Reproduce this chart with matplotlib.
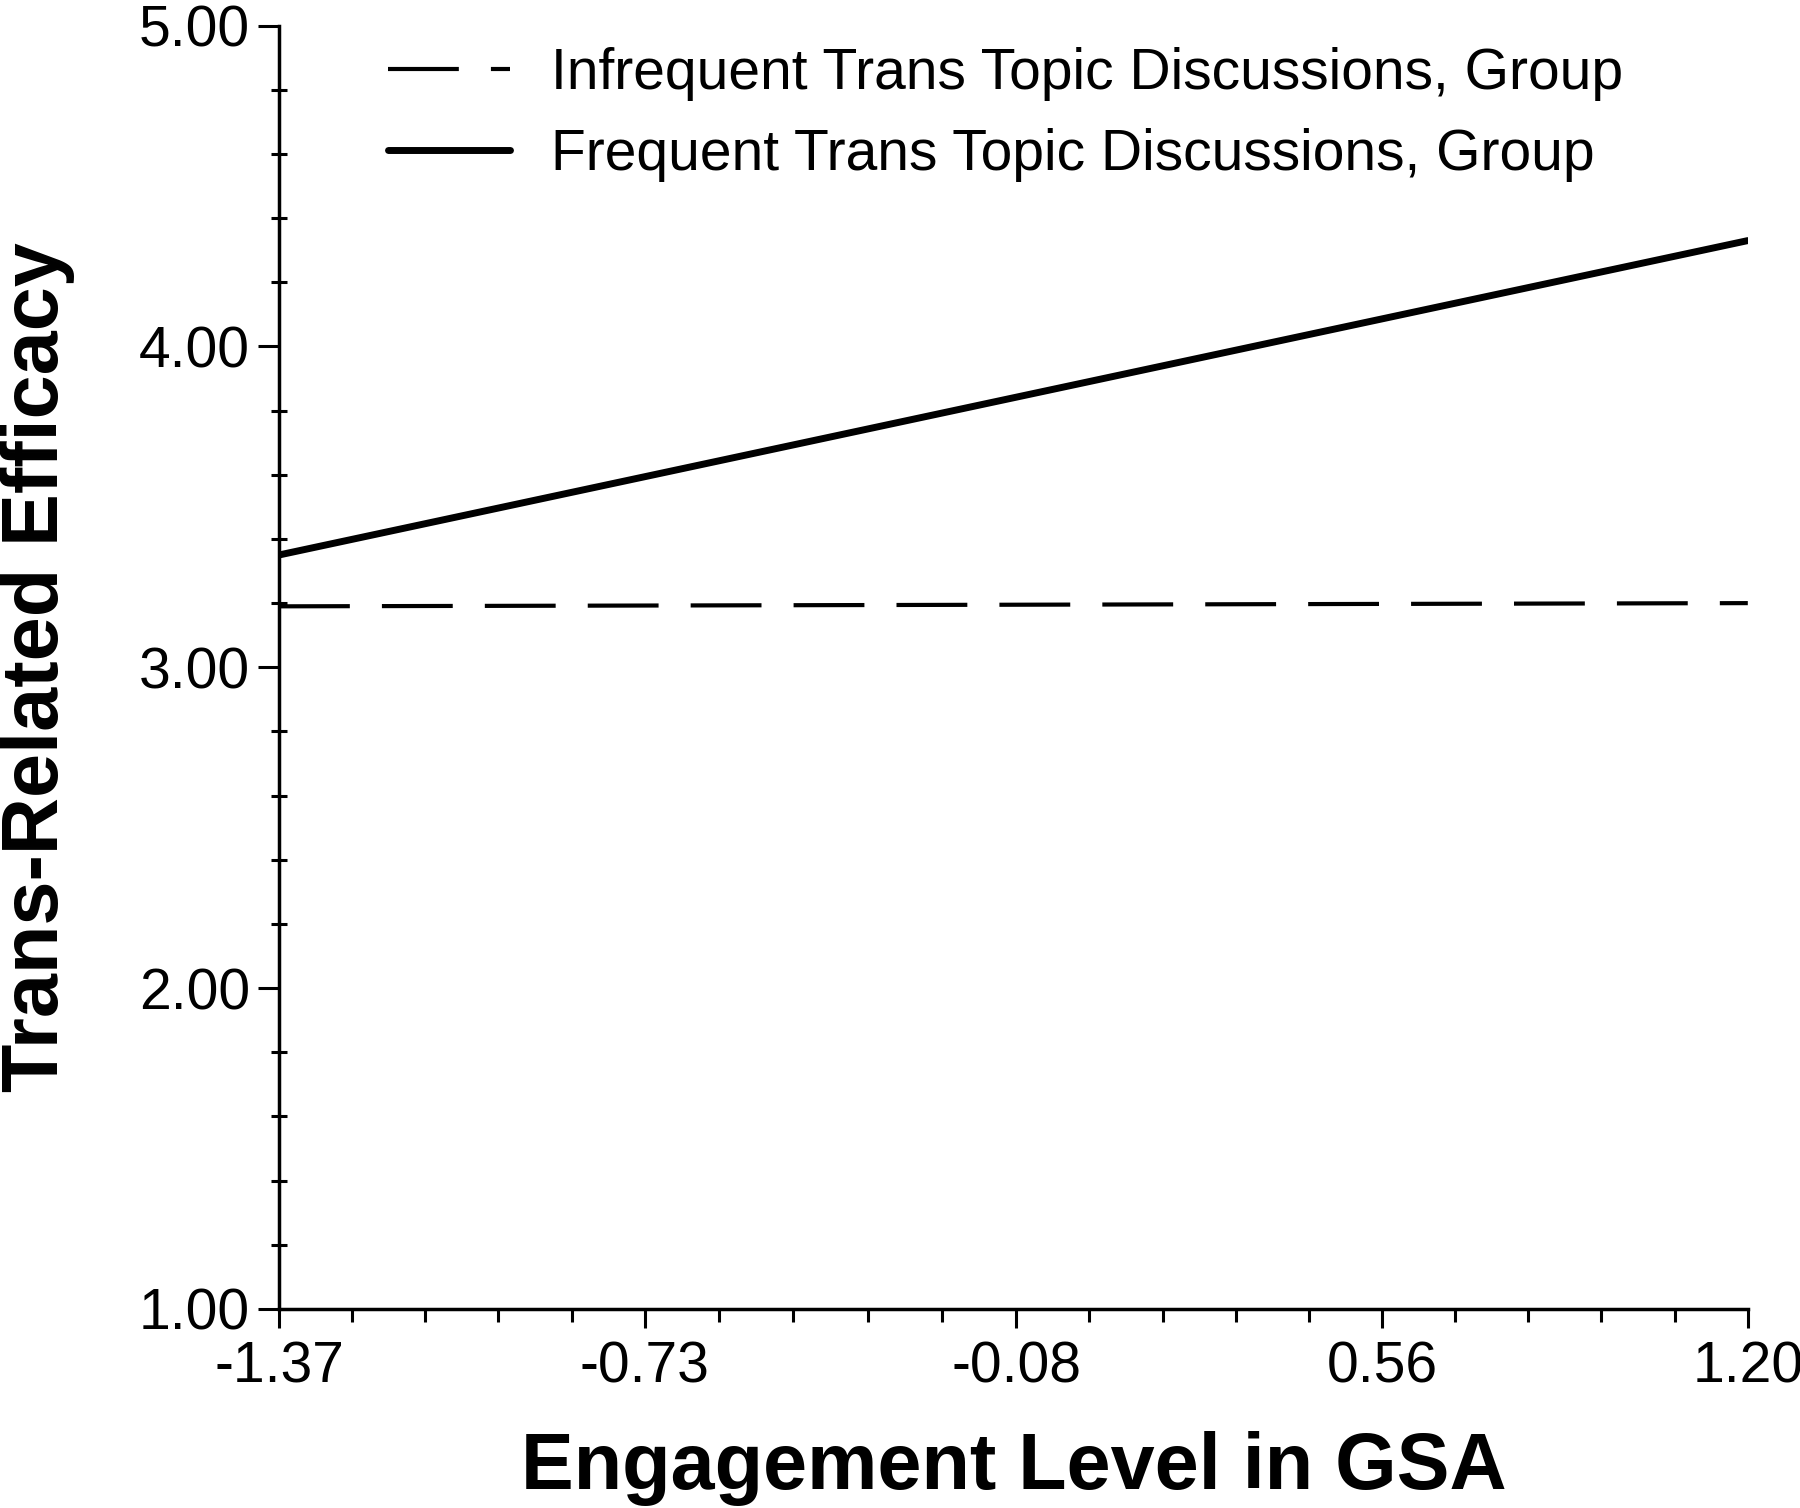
import matplotlib
matplotlib.use("Agg")
import matplotlib.pyplot as plt
from matplotlib.ticker import FixedLocator, MultipleLocator

# ---- data ----
x_ticks = [-1.37, -0.73, -0.08, 0.56, 1.20]
x_tick_labels = ["-1.37", "-0.73", "-0.08", "0.56", "1.20"]
y_ticks = [1.0, 2.0, 3.0, 4.0, 5.0]
y_tick_labels = ["1.00", "2.00", "3.00", "4.00", "5.00"]
engagement = [-1.37, 1.20]
infrequent = [3.19, 3.20]
frequent = [3.35, 4.33]
series_labels = ["Infrequent Trans Topic Discussions, Group",
                 "Frequent Trans Topic Discussions, Group"]

regular = ["Liberation Sans", "DejaVu Sans"]
bold = ["Liberation Sans", "DejaVu Sans"]

fig = plt.figure(figsize=(18, 15.08), dpi=100)
ax = fig.add_axes([0.155, 0.132, 0.971 - 0.155, 0.983 - 0.132])

ax.plot(engagement, infrequent, color="black", lw=3.0,
        linestyle=(0, (17, 7.7)), label=series_labels[0])
ax.plot(engagement, frequent, color="black", lw=5.0,
        solid_capstyle="round", label=series_labels[1])

ax.set_xlim(x_ticks[0], x_ticks[-1])
ax.set_ylim(y_ticks[0], y_ticks[-1])

for s in ["top", "right"]:
    ax.spines[s].set_visible(False)
for s in ["left", "bottom"]:
    ax.spines[s].set_linewidth(2.5)

ax.xaxis.set_major_locator(FixedLocator(x_ticks))
ax.set_xticklabels(x_tick_labels, fontfamily=regular, fontsize=41)
minor_x = []
for a, b in zip(x_ticks[:-1], x_ticks[1:]):
    for k in range(1, 5):
        minor_x.append(a + (b - a) * k / 5)
ax.xaxis.set_minor_locator(FixedLocator(minor_x))

ax.yaxis.set_major_locator(FixedLocator(y_ticks))
ax.set_yticklabels(y_tick_labels, fontfamily=regular, fontsize=41)
ax.yaxis.set_minor_locator(MultipleLocator(0.2))

ax.tick_params(axis="x", which="major", direction="out", length=14, width=2.2, pad=9)
ax.tick_params(axis="x", which="minor", direction="out", length=9, width=2.2)
ax.tick_params(axis="y", which="major", direction="out", length=15, width=2.2, pad=6)
ax.tick_params(axis="y", which="minor", direction="inout", length=12, width=2.2)

ax.set_xlabel("Engagement Level in GSA", fontfamily=bold, fontweight="bold", fontsize=57)
ax.xaxis.set_label_coords(0.5, -0.095)
ax.set_ylabel("Trans-Related Efficacy", fontfamily=bold, fontweight="bold", fontsize=57)
ax.yaxis.set_label_coords(-0.139, 0.5)

leg = ax.legend(loc="upper left", bbox_to_anchor=(388 / 1800, 1 - 47 / 1508),
                bbox_transform=fig.transFigure, frameon=False,
                prop={"family": regular, "size": 41},
                handlelength=2.15, handletextpad=0.72, labelspacing=0.47,
                borderpad=0, borderaxespad=0)

fig.savefig("out.png", dpi=100, facecolor="white")
